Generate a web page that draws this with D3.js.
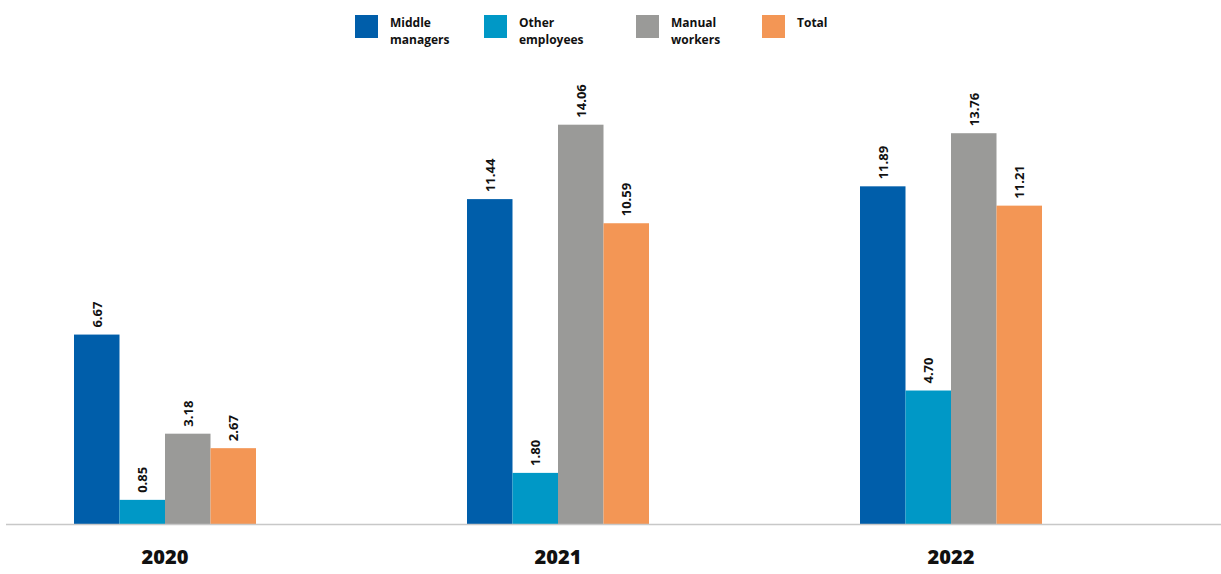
<!DOCTYPE html>
<html><head><meta charset="utf-8">
<script src="https://cdn.jsdelivr.net/npm/d3@7"></script>
<style>body{margin:0;background:#fff}svg{display:block}text{font-family:"Open Sans",Roboto,sans-serif}</style>
</head><body>
<svg id="c" width="1221" height="574"></svg>
<script>
const years = ["2020","2021","2022"];
const seriesNames = ["Middle managers","Other employees","Manual workers","Total"];
const legendLines = [["Middle","managers"],["Other","employees"],["Manual","workers"],["Total"]];
const middleManagers = [6.67, 11.44, 11.89];
const otherEmployees = [0.85, 1.80, 4.70];
const manualWorkers = [3.18, 14.06, 13.76];
const total = [2.67, 10.59, 11.21];
const colors = ["#005eaa","#0098c6","#9a9a98","#f39655"];

const values = [middleManagers, otherEmployees, manualWorkers, total];
const svg = d3.select("#c");
const baseY = 524;
const p = 1 - 182/393;
const x0 = d3.scaleBand().domain(years).range([-31.5, 1147.5]).paddingInner(p).paddingOuter(p/2);
const x1 = d3.scaleBand().domain(seriesNames).range([0, x0.bandwidth()]).padding(0);
const y = d3.scaleLinear().domain([0, 14.06]).range([baseY, baseY - 14.06*28.4]);

const g = svg.append("g");
years.forEach((yr, i) => {
  const gg = g.append("g").attr("transform", `translate(${x0(yr)},0)`);
  seriesNames.forEach((s, j) => {
    const v = values[j][i];
    gg.append("rect").attr("x", x1(s)).attr("width", x1.bandwidth())
      .attr("y", y(v)).attr("height", baseY - y(v)).attr("fill", colors[j]);
    const cx = x1(s) + x1.bandwidth()/2;
    gg.append("text").attr("transform", `translate(${cx + 5},${y(v) - 7}) rotate(-90)`)
      .attr("font-size", 13).attr("font-weight", 700).attr("fill", "#111")
      .text(v.toFixed(2));
  });
});

// axis line
const xAxis = d3.axisBottom(x0).tickSize(0).tickPadding(26);
const ax = svg.append("g").attr("transform", `translate(0,${baseY})`).call(xAxis);
ax.select(".domain").remove();
ax.selectAll("text").attr("font-size", 20).attr("font-weight", 800).attr("fill", "#111")
  .attr("font-family", "'Open Sans',sans-serif");
svg.append("line").attr("x1", 6).attr("x2", 1221).attr("y1", baseY + 0.5).attr("y2", baseY + 0.5)
  .attr("stroke", "#c8c8c8").attr("stroke-width", 1.5);

// legend
const legX = [355, 484, 636, 762];
const leg = svg.append("g");
seriesNames.forEach((s, j) => {
  leg.append("rect").attr("x", legX[j]).attr("y", 15).attr("width", 23).attr("height", 23).attr("fill", colors[j]);
  const t = leg.append("text").attr("x", legX[j] + 35).attr("y", 27)
    .attr("font-size", 12).attr("font-weight", 700).attr("fill", "#111");
  legendLines[j].forEach((ln, k) => t.append("tspan").attr("x", legX[j] + 35).attr("dy", k ? 17 : 0).text(ln));
});
</script>
</body></html>
